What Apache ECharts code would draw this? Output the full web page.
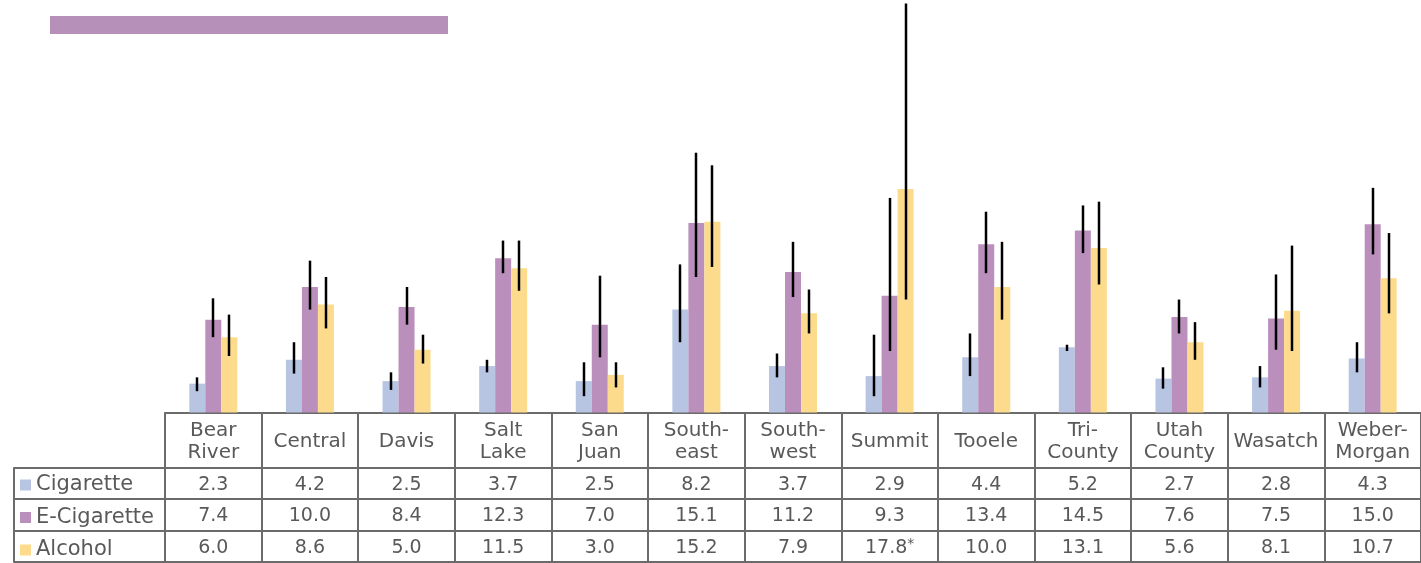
<!DOCTYPE html>
<html>
<head>
<meta charset="utf-8">
<script src="https://cdn.jsdelivr.net/npm/echarts@6/dist/echarts.min.js"></script>
<style>html,body{margin:0;padding:0;background:#fff}#c{width:1421px;height:563px}</style>
</head>
<body>
<div id="c"></div>
<script>
// ---- data ----
const categories = ['Bear\nRiver','Central','Davis','Salt\nLake','San\nJuan','South-\neast','South-\nwest','Summit','Tooele','Tri-\nCounty','Utah\nCounty','Wasatch','Weber-\nMorgan'];
const seriesNames = ['Cigarette','E-Cigarette','Alcohol'];
const cigarette  = [2.3, 4.2, 2.5, 3.7, 2.5, 8.2, 3.7, 2.9, 4.4, 5.2, 2.7, 2.8, 4.3];
const eCigarette = [7.4, 10.0, 8.4, 12.3, 7.0, 15.1, 11.2, 9.3, 13.4, 14.5, 7.6, 7.5, 15.0];
const alcohol    = [6.0, 8.6, 5.0, 11.5, 3.0, 15.2, 7.9, 17.8, 10.0, 13.1, 5.6, 8.1, 10.7];
const alcoholNote = ['', '', '', '', '', '', '', '*', '', '', '', '', ''];
// 95% confidence intervals
const cigaretteLow   = [1.7, 3.1, 1.8, 3.2, 1.3, 5.6, 2.8, 1.3, 2.9, 4.9, 1.9, 2.0, 3.2];
const cigaretteHigh  = [2.8, 5.6, 3.2, 4.2, 4.0, 11.8, 4.7, 6.2, 6.3, 5.4, 3.6, 3.7, 5.6];
const eCigaretteLow  = [6.0, 8.2, 7.0, 11.1, 4.4, 10.8, 9.2, 4.9, 11.1, 12.7, 6.3, 5.0, 12.6];
const eCigaretteHigh = [9.1, 12.1, 10.0, 13.7, 10.9, 20.7, 13.6, 17.1, 16.0, 16.5, 9.0, 11.0, 17.9];
const alcoholLow     = [4.5, 6.7, 3.9, 9.7, 2.0, 11.6, 6.3, 9.0, 7.4, 10.2, 4.2, 4.9, 7.9];
const alcoholHigh    = [7.8, 10.8, 6.2, 13.7, 4.0, 19.7, 9.8, 32.6, 13.6, 16.8, 7.2, 13.3, 14.3];

// ---- styles ----
const colors = ['#B7C4E2', '#BB8FBC', '#FDDB8C'];
const lineCol = '#6b6b6b';
const txtCol = '#595959';
const font = 'DejaVu Sans';
const barW = 16;

const chart = echarts.init(document.getElementById('c'), null, {renderer: 'canvas'});

function errorSeries(low, high, k) {
  return {
    type: 'custom', xAxisIndex: 0, yAxisIndex: 0, z: 10, silent: true,
    data: low.map((l, i) => [i, l, high[i]]),
    encode: {x: 0, y: [1, 2]},
    renderItem: function (params, api) {
      const a = api.coord([api.value(0), api.value(1)]);
      const b = api.coord([api.value(0), api.value(2)]);
      const x = Math.round(a[0] + (k - 1) * barW);
      return {type: 'line', shape: {x1: x, y1: a[1], x2: x, y2: b[1]},
              style: {stroke: '#000', lineWidth: 2.5}};
    }
  };
}

function rowAxis(offset, formatter) {
  return {
    type: 'category', gridIndex: 0, data: categories, position: 'bottom', offset: offset,
    axisLine: {show: true, onZero: false, lineStyle: {color: lineCol, width: 2}},
    axisTick: {show: false},
    axisLabel: {show: !!formatter, interval: 0, margin: 17, verticalAlign: 'middle',
      fontFamily: font, fontSize: 19, color: txtCol, formatter: formatter,
      rich: {v: {fontFamily: font, fontSize: 19, lineHeight: 22, color: txtCol},
             s: {fontFamily: font, fontSize: 14, lineHeight: 14, color: txtCol, verticalAlign: 'top'}}}
  };
}
function labelColAxis(offset, tickLen) {
  return {
    type: 'category', gridIndex: 1, data: [''], position: 'bottom', offset: offset,
    axisLine: {show: true, onZero: false, lineStyle: {color: lineCol, width: 2}},
    axisTick: {show: tickLen > 0, length: tickLen, lineStyle: {color: lineCol, width: 2}},
    axisLabel: {show: false}
  };
}

const option = {
  animation: false,
  backgroundColor: '#fff',
  graphic: [{type: 'rect', left: 50, top: 16, shape: {width: 398, height: 18}, style: {fill: '#B690B9'}}],
  legend: {
    data: seriesNames, orient: 'vertical', left: 20, top: 474.5, height: 90, padding: 0,
    itemWidth: 11, itemHeight: 11, itemGap: 11.5, icon: 'rect',
    textStyle: {fontFamily: font, fontSize: 21, color: txtCol, lineHeight: 20},
    selectedMode: false
  },
  grid: [
    {left: 165, top: 0, width: 1262, height: 412.5},
    {left: 14, top: 0, width: 151, height: 412.5}
  ],
  xAxis: [
    {
      type: 'category', gridIndex: 0, data: categories, position: 'bottom',
      axisLine: {show: true, onZero: false, lineStyle: {color: lineCol, width: 2}},
      axisTick: {show: true, length: 150, alignWithLabel: false, lineStyle: {color: lineCol, width: 2}},
      axisLabel: {interval: 0, margin: 29.5, verticalAlign: 'middle', lineHeight: 22,
        fontFamily: font, fontSize: 20, color: txtCol}
    },
    rowAxis(55.5, (v, i) => cigarette[i].toFixed(1)),
    rowAxis(86.5, (v, i) => eCigarette[i].toFixed(1)),
    rowAxis(118.5, (v, i) => alcoholNote[i] ? '{v|' + alcohol[i].toFixed(1) + '}{s|' + alcoholNote[i] + '}' : alcohol[i].toFixed(1)),
    rowAxis(149.5, null),
    labelColAxis(55.5, 94),
    labelColAxis(86.5, 0),
    labelColAxis(118.5, 0),
    labelColAxis(149.5, 0)
  ],
  yAxis: [
    {type: 'value', gridIndex: 0, min: 0, max: 32.87, show: false, splitLine: {show: false}},
    {type: 'value', gridIndex: 1, min: 0, max: 1, show: false, splitLine: {show: false}}
  ],
  series: [
    {name: seriesNames[0], type: 'bar', data: cigarette, barWidth: barW, barGap: '0%', itemStyle: {color: colors[0]}},
    {name: seriesNames[1], type: 'bar', data: eCigarette, barWidth: barW, barGap: '0%', itemStyle: {color: colors[1]}},
    {name: seriesNames[2], type: 'bar', data: alcohol, barWidth: barW, barGap: '0%', itemStyle: {color: colors[2]}},
    errorSeries(cigaretteLow, cigaretteHigh, 0),
    errorSeries(eCigaretteLow, eCigaretteHigh, 1),
    errorSeries(alcoholLow, alcoholHigh, 2)
  ]
};
chart.setOption(option);
</script>
</body>
</html>
